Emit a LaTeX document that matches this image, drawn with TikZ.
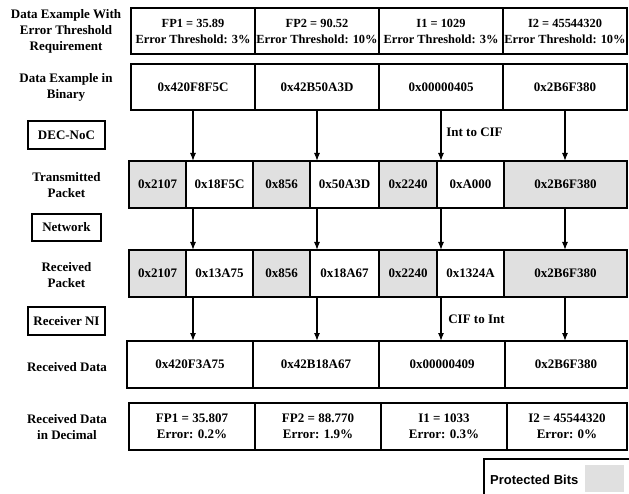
\documentclass[tikz,border=0pt]{standalone}
\usepackage{fontspec}
\setmainfont{Liberation Serif}
\newfontfamily\legendfont{Liberation Sans}
\usetikzlibrary{arrows.meta}
\definecolor{protgray}{RGB}{224,224,224}
\begin{document}
\begin{tikzpicture}[x=1pt,y=-1pt,
  txt/.style={font=\fontsize{13}{16}\selectfont\bfseries, align=center, inner sep=0pt},
  cell/.style={txt, draw=black, line width=1.3pt, outer sep=0pt, minimum height=47pt},
  prot/.style={cell, fill=protgray},
  lbox/.style={txt, draw=black, line width=1.3pt, inner sep=0pt},
  arr/.style={line width=1.2pt, -{Latex[length=8pt,width=6pt]}},
  thr/.style={font=\fontsize{12.4}{16}\selectfont\bfseries}
]
\useasboundingbox (0,0) rectangle (629,494);

% left labels
\node[txt] (l1) at (66,31) {Data Example With\\Error Threshold\\Requirement};
\node[txt] (l2) at (66,87) {Data Example in\\Binary};
\node[lbox, minimum width=77pt, minimum height=28pt] (dec) at (66.5,135) {DEC-NoC};
\node[txt] (l3) at (66.5,185) {Transmitted\\Packet};
\node[lbox, minimum width=69pt, minimum height=27pt] (net) at (66.5,227.5) {Network};
\node[txt] (l4) at (66.5,275) {Received\\Packet};
\node[lbox, minimum width=77pt, minimum height=28pt] (rni) at (66.5,321) {Receiver NI};
\node[txt] (l5) at (67,367) {Received Data};
\node[txt] (l6) at (67,427) {Received Data\\in Decimal};

% row 1
\node[cell, thr, minimum width=124pt, minimum height=46pt] (a1) at (193,31) {FP1 = 35.89\\Error Threshold: 3\%};
\node[cell, thr, minimum width=124pt, minimum height=46pt] (a2) at (317,31) {FP2 = 90.52\\Error Threshold: 10\%};
\node[cell, thr, minimum width=124pt, minimum height=46pt] (a3) at (441,31) {I1 = 1029\\Error Threshold: 3\%};
\node[cell, thr, minimum width=124pt, minimum height=46pt] (a4) at (565,31) {I2 = 45544320\\Error Threshold: 10\%};

% row 2
\node[cell, minimum width=124pt, minimum height=46pt] (b1) at (193,87) {0x420F8F5C};
\node[cell, minimum width=124pt, minimum height=46pt] (b2) at (317,87) {0x42B50A3D};
\node[cell, minimum width=124pt, minimum height=46pt] (b3) at (441,87) {0x00000405};
\node[cell, minimum width=124pt, minimum height=46pt] (b4) at (565,87) {0x2B6F380};

% transmitted packet
\node[prot, minimum width=57pt] (t1) at (157.5,184.5) {0x2107};
\node[cell, minimum width=67pt] (t2) at (219.5,184.5) {\raisebox{-2.5pt}{0x18F5C}};
\node[prot, minimum width=57pt] (t3) at (281.5,184.5) {0x856};
\node[cell, minimum width=69pt] (t4) at (344.5,184.5) {\raisebox{-2.5pt}{0x50A3D}};
\node[prot, minimum width=58pt] (t5) at (408,184.5) {0x2240};
\node[cell, minimum width=67pt] (t6) at (470.5,184.5) {\raisebox{-2.5pt}{0xA000}};
\node[prot, minimum width=123pt] (t7) at (565.5,184.5) {0x2B6F380};

% received packet
\node[prot, minimum width=57pt] (r1) at (157.5,273.5) {0x2107};
\node[cell, minimum width=67pt] (r2) at (219.5,273.5) {\raisebox{-2.5pt}{0x13A75}};
\node[prot, minimum width=57pt] (r3) at (281.5,273.5) {0x856};
\node[cell, minimum width=69pt] (r4) at (344.5,273.5) {\raisebox{-2.5pt}{0x18A67}};
\node[prot, minimum width=58pt] (r5) at (408,273.5) {0x2240};
\node[cell, minimum width=67pt] (r6) at (470.5,273.5) {\raisebox{-2.5pt}{0x1324A}};
\node[prot, minimum width=123pt] (r7) at (565.5,273.5) {0x2B6F380};

% received data
\node[cell, minimum width=126pt] (d1) at (190,364.5) {0x420F3A75};
\node[cell, minimum width=126pt] (d2) at (316,364.5) {0x42B18A67};
\node[cell, minimum width=126pt] (d3) at (442,364.5) {0x00000409};
\node[cell, minimum width=122pt] (d4) at (566,364.5) {0x2B6F380};

% received decimal
\node[cell, minimum width=126pt] (e1) at (192,426.5) {FP1 = 35.807\\Error: 0.2\%};
\node[cell, minimum width=126pt] (e2) at (318,426.5) {FP2 = 88.770\\Error: 1.9\%};
\node[cell, minimum width=126pt] (e3) at (444,426.5) {I1 = 1033\\Error: 0.3\%};
\node[cell, minimum width=120pt] (e4) at (567,426.5) {I2 = 45544320\\Error: 0\%};

% arrows
\foreach \c in {b1,b2,b3,b4}{
  \draw[arr] (\c.south) -- (\c.south |- t1.north);
  \draw[arr] (\c.south |- t1.south) -- (\c.south |- r1.north);
  \draw[arr] (\c.south |- r1.south) -- (\c.south |- d1.north);
}
\node[txt] (i2c) at (474.5,132) {Int to CIF};
\node[txt] (c2i) at (476.5,319) {CIF to Int};

% legend
\coordinate (lgA) at (484,500);
\coordinate (lgB) at (484,459);
\coordinate (lgC) at (635,459);
\draw[line width=1.3pt] (lgA) -- (lgB) -- (lgC);
\node[font=\legendfont\fontsize{13}{16}\selectfont\bfseries, anchor=west, inner sep=0pt] (leg) at (490,480) {Protected Bits};
\node[fill=protgray, minimum width=39pt, minimum height=27pt, inner sep=0pt] (legbox) at (604.5,478.5) {};
\end{tikzpicture}
\end{document}
